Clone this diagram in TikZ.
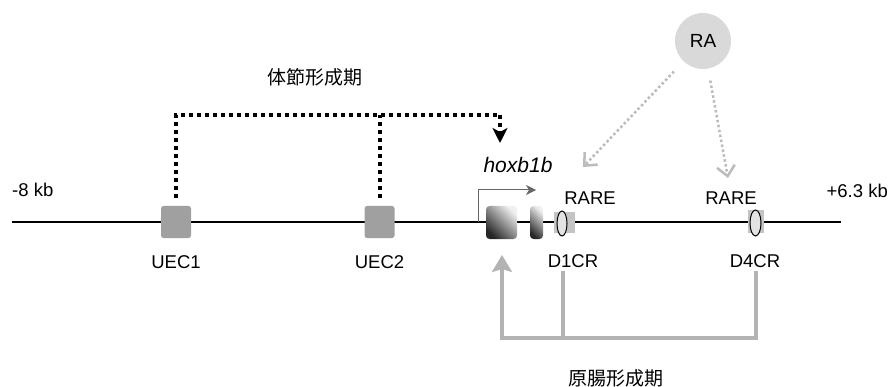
\documentclass[tikz,border=0pt]{standalone}
\usepackage{fontspec}
\setmainfont{Liberation Sans}
\newfontfamily\cjk{Noto Sans CJK JP}
\usetikzlibrary{arrows.meta,shapes.geometric}
\definecolor{uecgray}{HTML}{A0A0A0}
\definecolor{linegray}{HTML}{B3B3B3}
\definecolor{ragray}{HTML}{D9D9D9}
\definecolor{dotgray}{HTML}{BBBBBB}
\definecolor{raregray}{HTML}{C4C4C4}
\definecolor{promgray}{HTML}{666666}
\begin{document}
\begin{tikzpicture}[x=1pt,y=-1pt,
  lbl/.style={font=\fontsize{18.5}{20}\selectfont, inner sep=0pt},
  cjklbl/.style={font=\cjk\fontsize{19}{21}\selectfont, inner sep=0pt},
  uecbox/.style={fill=uecgray, rounded corners=2.5pt, minimum width=30pt, minimum height=32pt, inner sep=0pt},
  exonbox/.style={rounded corners=3.5pt, minimum height=33pt, inner sep=0pt, top color=gray!12, bottom color=black!85, shading angle=-45},
  rarebox/.style={fill=raregray, inner sep=0pt},
  rareell/.style={ellipse, draw=black, line width=1pt, fill=gray!22, inner sep=0pt},
  mainline/.style={line width=2pt, black},
  blkdot/.style={line width=4pt, black, dash pattern=on 4pt off 4pt},
  radot/.style={line width=2.5pt, dotgray, dash pattern=on 2.5pt off 2.5pt, -{Straight Barb[length=10pt, width=18pt, line width=2.5pt]}},
  gline/.style={line width=4pt, linegray},
  promoter/.style={line width=1pt, promgray, -{Stealth[length=10pt, width=10pt, inset=3pt]}}
]
\useasboundingbox (0,0) rectangle (893,387);

% main line
\coordinate (L) at (12,222);
\coordinate (R) at (841,222);
\draw[mainline] (L) -- (R);

% end labels
\node[lbl, anchor=base west] (lft) at (12,197) {-8 kb};
\node[lbl, anchor=base east] (rgt) at (888,198) {+6.3 kb};

% UEC boxes
\node[uecbox] (uec1) at (176,222) {};
\node[uecbox] (uec2) at (379.5,222) {};
\node[lbl, anchor=base] (uec1l) at (176,268) {UEC1};
\node[lbl, anchor=base] (uec2l) at (379.5,268) {UEC2};

% hoxb1b exons
\node[exonbox, minimum width=31pt] (ex1) at (501.5,222.5) {};
\node[exonbox, minimum width=13pt] (ex2) at (536.5,222.5) {};
\node[font=\fontsize{21}{23}\selectfont\itshape, inner sep=0pt, anchor=base] (hox) at (518,173) {hoxb1b};

% promoter arrow
\coordinate (ps) at (478,222);
\coordinate (pe) at (536,190);
\draw[promoter] (ps) |- (pe);

% RARE elements
\node[rarebox, minimum width=21pt, minimum height=21pt] (r1) at (564.5,222.5) {};
\node[rareell, minimum width=10pt, minimum height=25pt] (e1) at (562,223.5) {};
\node[rarebox, minimum width=16pt, minimum height=23pt] (r4) at (756,221.5) {};
\node[rareell, minimum width=11pt, minimum height=26pt] (e4) at (755.5,223) {};
\node[lbl, anchor=base] (rare1) at (590,205) {RARE};
\node[lbl, anchor=base] (rare4) at (731,205) {RARE};
\node[lbl, anchor=base] (d1cr) at (573,267) {D1CR};
\node[lbl, anchor=base] (d4cr) at (755,267) {D4CR};

% RA
\node[circle, fill=ragray, minimum size=56pt, inner sep=0pt, font=\fontsize{19}{21}\selectfont] (ra) at (703,41) {RA};
\coordinate (t1) at (583,167);
\coordinate (t4) at (728,178);
\draw[radot, shorten <=14pt] (ra) -- (t1);
\draw[radot, shorten <=12pt] (ra) -- (t4);

% somitogenesis dotted connectors
\coordinate (dtop) at (500,115);
\coordinate (dtip) at (500,143);
\draw[blkdot] ([yshift=8pt]uec1.north) |- (dtop);
\draw[blkdot] ([yshift=8pt]uec2.north) -- (uec2.north |- dtop);
\draw[blkdot, -{Stealth[length=15pt, width=15pt, inset=4pt]}] (dtop) -- (dtip);
\node[cjklbl] (somi) at (315,77) {体節形成期};

% gastrulation connectors
\coordinate (g1t) at (563,271);
\coordinate (g1b) at (563,338);
\coordinate (g4t) at (756,271);
\coordinate (g4b) at (756,338);
\coordinate (gl) at (502,338);
\coordinate (gtip) at (502,255);
\draw[gline] (g1t) -- (g1b);
\draw[gline, -{Stealth[length=17pt, width=20pt, inset=3pt]}] (g4t) -- (g4b) -- (gl) -- (gtip);
\node[cjklbl] (gast) at (616,378) {原腸形成期};
\end{tikzpicture}
\end{document}
